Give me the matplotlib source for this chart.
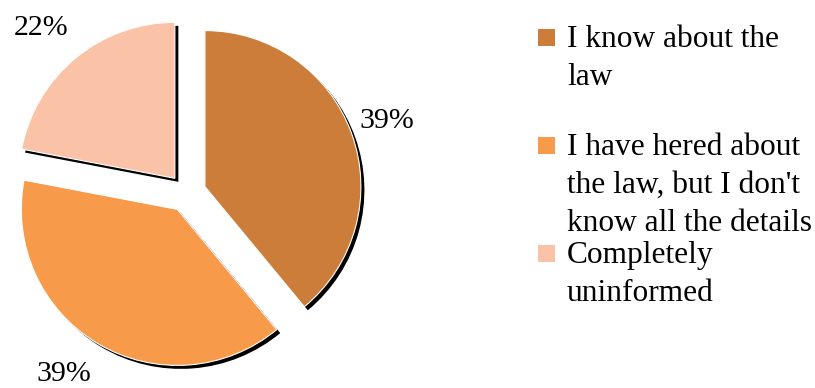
"""Awareness of the law: exploded pie with drop shadows and a wrapped legend."""

import matplotlib
matplotlib.use("Agg")
import matplotlib.pyplot as plt
import numpy as np
from matplotlib.patches import Rectangle, Wedge
from matplotlib.transforms import ScaledTranslation

labels = [
    "I know about the\nlaw",
    "I have hered about\nthe law, but I don't\nknow all the details",
    "Completely\nuninformed",
]
shares = [39, 39, 22]
colors = ["#CD7D3A", "#F79A4A", "#FAC3A8"]

W, H = 815, 388
R_PX = 156          # pie radius in pixels
CX, CY = 187, 193   # pie centre, pixels from top-left

# per-slice label placement: radial distance (radii) and angle nudge (deg)
label_dist = [1.24, 1.28, 1.29]
label_nudge = [0, -4, 2]

plt.rcParams["font.family"] = ["Liberation Serif", "DejaVu Serif"]

fig = plt.figure(figsize=(W / 100, H / 100), dpi=100)
ax = fig.add_axes([0, 0, 1, 1])

wedges, texts, autotexts = ax.pie(
    shares,
    colors=colors,
    startangle=90,
    counterclock=False,
    explode=[0.122] * len(shares),
    autopct="%1.0f%%",
    wedgeprops={"edgecolor": "white", "linewidth": 0.8, "zorder": 2},
    textprops={"fontsize": 21.5, "color": "black"},
)

# black drop shadow under each slice, shifted right/down by a few pixels
shift = ax.transData + ScaledTranslation(3.5 / 100, -3.5 / 100, fig.dpi_scale_trans)
for w in wedges:
    ax.add_patch(Wedge(w.center, w.r, w.theta1, w.theta2, facecolor="black",
                       edgecolor="none", transform=shift, zorder=1))

for w, t, d, nudge in zip(wedges, autotexts, label_dist, label_nudge):
    mid = np.deg2rad((w.theta1 + w.theta2) / 2 + nudge)
    t.set_position((w.center[0] + d * np.cos(mid), w.center[1] + d * np.sin(mid)))
    t.set_ha("center")
    t.set_va("center")

# one data unit = pie radius; keep pixels square
ax.set_xlim(-CX / R_PX, (W - CX) / R_PX)
ax.set_ylim(-(H - CY) / R_PX, CY / R_PX)
ax.set_aspect("auto")
ax.axis("off")

# legend: square swatch plus wrapped label, three line slots per entry
line_step = 38
entry_step = 108
first_base = 47
for i, (lab, col) in enumerate(zip(labels, colors)):
    base = first_base + i * entry_step
    sq_top = base - 18
    fig.patches.append(Rectangle((538 / W, 1 - (sq_top + 17) / H), 17 / W, 17 / H,
                                 transform=fig.transFigure, facecolor=col,
                                 edgecolor="none"))
    for j, line in enumerate(lab.split("\n")):
        fig.text(567 / W, 1 - (base + j * line_step) / H, line,
                 fontsize=22.6, va="baseline", ha="left")

fig.savefig("out.png", dpi=100)
